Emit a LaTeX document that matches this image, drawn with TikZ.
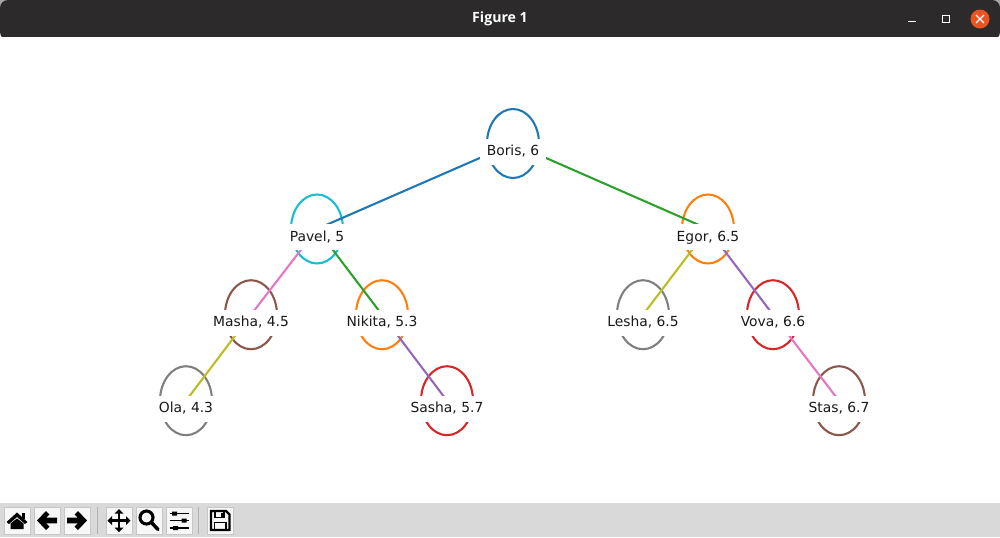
\documentclass[tikz,border=0pt]{standalone}
\usepackage{fontspec}
\setmainfont{DejaVu Sans}
\newfontfamily\titlefont{Open Sans}
\usetikzlibrary{arrows.meta,positioning,shapes.geometric}
\definecolor{tabblue}{HTML}{1F77B4}
\definecolor{taborange}{HTML}{FF7F0E}
\definecolor{tabgreen}{HTML}{2CA02C}
\definecolor{tabred}{HTML}{D62728}
\definecolor{tabpurple}{HTML}{9467BD}
\definecolor{tabbrown}{HTML}{8C564B}
\definecolor{tabpink}{HTML}{E377C2}
\definecolor{tabgray}{HTML}{7F7F7F}
\definecolor{tabolive}{HTML}{BCBD22}
\definecolor{tabcyan}{HTML}{17BECF}
\definecolor{titlebar}{HTML}{2C2A2A}
\definecolor{toolbar}{HTML}{D9D9D9}
\definecolor{closebtn}{HTML}{E95420}
\tikzset{
  treenode/.style={ellipse,draw=#1,line width=1.56pt,minimum width=39pt,minimum height=51.75pt,inner sep=0pt,outer sep=0pt},
  treeedge/.style={line width=1.56pt},
  namelabel/.style={fill=white,inner xsep=4.9pt,inner ysep=3pt,text height=9.75pt,text depth=3.75pt,font=\fontsize{10.4pt}{12pt}\selectfont,text=black!90},
  toolbtn/.style={draw=black!22,fill=black!3,line width=.75pt,minimum width=19.5pt,minimum height=20.25pt,inner sep=0pt},
  toolsep/.style={draw=black!30,line width=.75pt},
  wincontrol/.style={draw=white,line width=.75pt},
}
\begin{document}
\begin{tikzpicture}[x=.75pt,y=-.75pt,on grid]
\useasboundingbox (0,0) rectangle (1000,537);
\fill[white] (0,0) rectangle (1000,537);
% window frame
\fill[black!35] (0,0) rectangle (12,12) (988,0) rectangle (1000,12);
\fill[titlebar,rounded corners=6pt] (0,40) -- (0,0) -- (1000,0) -- (1000,40) -- cycle;
\fill[white] (0,37) rectangle (1000,503);
\fill[toolbar] (0,503) rectangle (1000,537);
\node[font=\titlefont\bfseries\fontsize{10.6pt}{12pt}\selectfont,text=white] (title) at (500,18.5) {Figure 1};
\draw[wincontrol] (908,21) -- (916,21);
\node[wincontrol,minimum size=5.6pt,inner sep=0pt] (maxbtn) at (946,19) {};
\node[circle,fill=closebtn,minimum size=14.25pt,inner sep=0pt] (closewin) at (980,19) {};
\draw[white,line width=1pt] (976,15) -- (984,23) (984,15) -- (976,23);
% tree
\node[treenode=tabblue] (boris) at (513,143.5) {};
\node[treenode=tabcyan,below left=64.1pt and 147pt of boris] (pavel) {};
\node[treenode=taborange,below right=64.1pt and 146.25pt of boris] (egor) {};
\node[treenode=tabbrown,below left=64.3pt and 49.5pt of pavel] (masha) {};
\node[treenode=taborange,below right=64.3pt and 48.75pt of pavel] (nikita) {};
\node[treenode=tabgray,below left=64.3pt and 48.75pt of egor] (lesha) {};
\node[treenode=tabred,below right=64.3pt and 48.75pt of egor] (vova) {};
\node[treenode=tabgray,below left=64.5pt and 48.75pt of masha] (ola) {};
\node[treenode=tabred,below right=64.5pt and 48.75pt of nikita] (sasha) {};
\node[treenode=tabbrown,below right=64.5pt and 49.5pt of vova] (stas) {};
\foreach \u/\v/\c in {boris/pavel/tabblue,boris/egor/tabgreen,pavel/masha/tabpink,pavel/nikita/tabgreen,masha/ola/tabolive,nikita/sasha/tabpurple,egor/lesha/tabolive,egor/vova/tabpurple,vova/stas/tabpink}{\draw[treeedge,\c] (\u.center)--(\v.center);}
\foreach \n/\t in {boris/{Boris, 6},pavel/{Pavel, 5},egor/{Egor, 6.5},masha/{Masha, 4.5},nikita/{Nikita, 5.3},lesha/{Lesha, 6.5},vova/{Vova, 6.6},ola/{Ola, 4.3},sasha/{Sasha, 5.7},stas/{Stas, 6.7}}{\node[namelabel,below=6.2pt of \n] (\n lab) {\t};}
% toolbar
\node[toolbtn] (home) at (17,520.5) {};
\node[toolbtn,right=22.5pt of home] (back) {};
\node[toolbtn,right=22.5pt of back] (forward) {};
\node[toolbtn,right=31.5pt of forward] (move) {};
\node[toolbtn,right=22.5pt of move] (zoomin) {};
\node[toolbtn,right=22.5pt of zoomin] (sliders) {};
\node[toolbtn,right=30.75pt of sliders] (save) {};
\draw[toolsep] (97,507) -- (97,534) (198,507) -- (198,534);
\begin{scope}[shift={(home.center)}]
\fill[black] (-10.5,1.5) -- (0,-8) -- (10.5,1.5) -- (8,3.5) -- (0,-3.5) -- (-8,3.5) -- cycle;
\fill[black] (5,-8) rectangle (8,-2);
\fill[black] (-6.5,3) -- (0,-2) -- (6.5,3) -- (6.5,8.5) -- (-6.5,8.5) -- cycle;
\end{scope}
\begin{scope}[shift={(back.center)}]
\fill[black] (-10,0) -- (-1,-9.5) -- (2.5,-6) -- (-1,-2.8) -- (10,-2.8) -- (10,2.8) -- (-1,2.8) -- (2.5,6) -- (-1,9.5) -- cycle;
\end{scope}
\begin{scope}[shift={(forward.center)}]
\fill[black] (10,0) -- (1,-9.5) -- (-2.5,-6) -- (1,-2.8) -- (-10,-2.8) -- (-10,2.8) -- (1,2.8) -- (-2.5,6) -- (1,9.5) -- cycle;
\end{scope}
\begin{scope}[shift={(move.center)}]
\draw[black,line width=1.8pt] (-8,0) -- (8,0) (0,-8) -- (0,8);
\fill[black] (-11.5,0) -- (-7,-4.5) -- (-7,4.5) -- cycle (11.5,0) -- (7,-4.5) -- (7,4.5) -- cycle (0,-11.5) -- (-4.5,-7) -- (4.5,-7) -- cycle (0,11.5) -- (-4.5,7) -- (4.5,7) -- cycle;
\end{scope}
\begin{scope}[shift={(zoomin.center)}]
\draw[black,line width=2.3pt] (-2.5,-3) circle[radius=6.5];
\draw[black,line width=2.6pt,line cap=round] (2.5,2) -- (9,9);
\end{scope}
\begin{scope}[shift={(sliders.center)}]
\draw[black,line width=1.1pt] (-9.5,-7) -- (9.5,-7) (-9.5,0) -- (9.5,0) (-9.5,7.5) -- (9.5,7.5);
\fill[black] (-7,-9) rectangle (-2,-5) (2.5,-2) rectangle (7.5,2) (-6,5.5) rectangle (-1,9.5);
\end{scope}
\begin{scope}[shift={(save.center)}]
\draw[black,line width=1.8pt] (-9,-9.5) -- (6,-9.5) -- (9.5,-6) -- (9.5,9.5) -- (-9,9.5) -- cycle;
\draw[black,line width=1.2pt] (-5,-9) -- (-5,-3) -- (4,-3) -- (4,-9);
\fill[black] (.5,-8) rectangle (3,-4);
\draw[black,line width=1.4pt] (-5.5,9) -- (-5.5,2) -- (6,2) -- (6,9);
\end{scope}
\end{tikzpicture}
\end{document}
